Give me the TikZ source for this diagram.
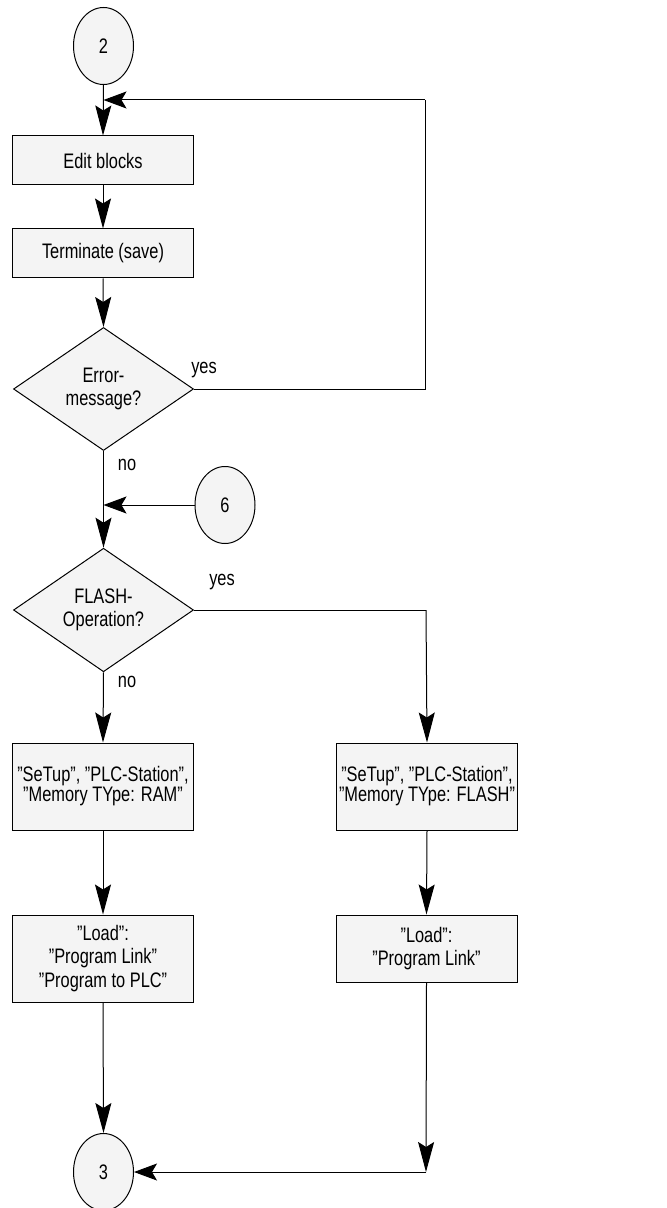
\documentclass[tikz,border=0pt]{standalone}
\usepackage{fontspec}
\setmainfont{Liberation Sans}[FakeStretch=0.78]
\usetikzlibrary{shapes.geometric,arrows.meta}
\definecolor{boxfill}{HTML}{F4F4F4}
\begin{document}
\begin{tikzpicture}[x=0.5pt,y=-0.5pt,
  every node/.style={font={\fontsize{10.5pt}{11.75pt}\selectfont}},
  box/.style={draw, fill=boxfill, line width=0.5pt, minimum width=90.5pt, inner sep=0pt, align=center},
  conn/.style={draw, fill=boxfill, ellipse, line width=0.5pt, minimum width=30pt, minimum height=38.5pt, inner sep=0pt},
  dec/.style={draw, fill=boxfill, diamond, line width=0.5pt, minimum width=90pt, minimum height=61.5pt, inner sep=0pt, align=center},
  vline/.style={line width=0.5pt, -{Stealth[length=15pt,width=8pt,inset=2.5pt]}},
  hline/.style={line width=0.5pt, -{Stealth[length=11.5pt,width=8.5pt,inset=2.5pt]}},
  plain/.style={line width=0.5pt},
  lbl/.style={inner sep=0pt}
]
\useasboundingbox (0,0) rectangle (667,1208);

\node[conn] (c2) at (103.5,46) {2};
\node[box, minimum height=24.5pt] (edit) at (103,160.5) {Edit blocks};
\node[box, minimum height=24.5pt] (term) at (103,253.5) {Terminate (save)};
\node[dec] (err) at (103.5,389) {Error-\\message?};
\node[conn] (c6) at (225,505) {6};
\node[dec] (fl) at (103.5,610) {FLASH-\\Operation?};
\node[box, minimum height=43.5pt, font={\fontsize{10.5pt}{10pt}\selectfont}] (ram) at (103,786.5) {”SeTup”, ”PLC-Station”,\\”Memory TYpe: RAM”};
\node[box, minimum height=43.5pt, font={\fontsize{10.5pt}{10pt}\selectfont}] (flash) at (427,786.5) {”SeTup”, ”PLC-Station”,\\”Memory TYpe: FLASH”};
\node[box, minimum height=43.5pt] (loadl) at (103,958.5) {”Load”:\\”Program Link”\\”Program to PLC”};
\node[box, minimum height=33.5pt] (loadr) at (426.5,948.5) {”Load”:\\”Program Link”};
\node[conn] (c3) at (103.5,1172) {3};

\coordinate (j1) at (103.5,100);
\coordinate (r1) at (425,100);
\coordinate (r2) at (425,389);
\coordinate (j2) at (103.5,505);
\coordinate (r3) at (426,610);
\coordinate (r4) at (426,1172);

\node[lbl] (yes1) at (204,370) {yes};
\node[lbl] (no1) at (127,465) {no};
\node[lbl] (yes2) at (222,582) {yes};
\node[lbl] (no2) at (127,682) {no};

\draw[vline] (c2.south) -- (edit.north);
\draw[vline] (edit.south) -- (term.north);
\draw[vline] (term.south) -- (err.north);
\draw[plain] (err.east) -- (r2) -- (r1);
\draw[hline] (r1) -- (j1);
\draw[vline] (err.south) -- (fl.north);
\draw[hline] (c6.west) -- (j2);
\draw[plain] (fl.east) -- (r3);
\draw[vline] (r3) -- (flash.north);
\draw[vline] (fl.south) -- (ram.north);
\draw[vline] (ram.south) -- (loadl.north);
\draw[vline] (flash.south) -- (loadr.north);
\draw[vline] (loadl.south) -- (c3.north);
\draw[vline] (loadr.south) -- (r4);
\draw[hline] (r4) -- (c3.east);
\end{tikzpicture}
\end{document}
